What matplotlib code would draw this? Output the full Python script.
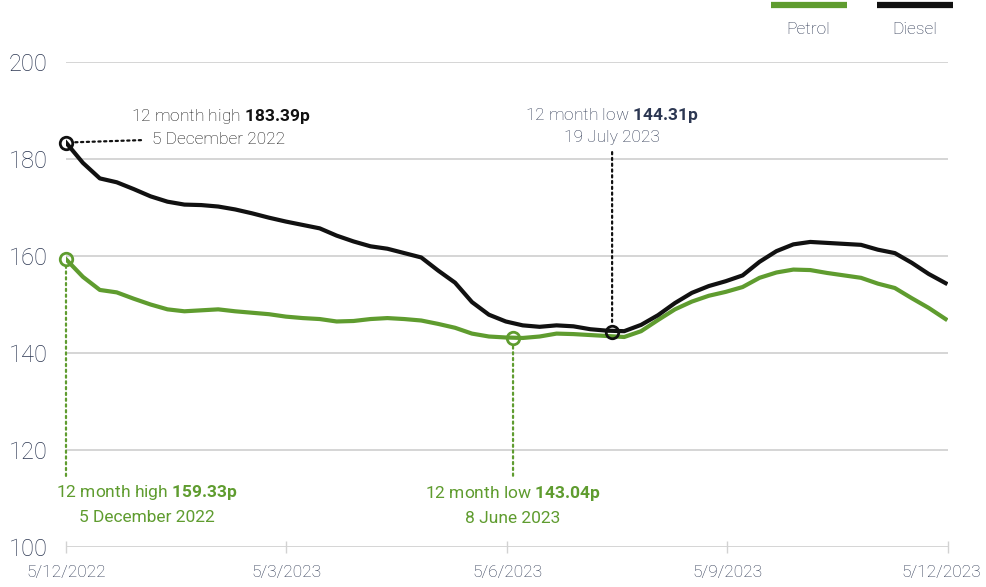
import numpy as np
import matplotlib
matplotlib.use("Agg")
import matplotlib.pyplot as plt
import matplotlib.dates as mdates
from matplotlib.lines import Line2D
from matplotlib.transforms import ScaledTranslation

# weekly average pump prices (pence per litre), from 5 Dec 2022
start = np.datetime64("2022-12-05")
end = np.datetime64("2023-12-05")
dates = start + np.arange(53) * np.timedelta64(7, "D")

diesel = [183.39, 179.2, 176.0, 175.2, 173.8, 172.3, 171.2, 170.6, 170.5, 170.2,
          169.6, 168.8, 167.9, 167.1, 166.4, 165.7, 164.2, 163.0, 162.0, 161.5,
          160.6, 159.7, 157.0, 154.5, 150.5, 147.9, 146.5, 145.7, 145.4, 145.7,
          145.5, 144.9, 144.6, 144.5, 145.8, 147.8, 150.3, 152.4, 153.8, 154.8,
          156.0, 158.8, 161.0, 162.4, 162.9, 162.7, 162.5, 162.3, 161.3, 160.6,
          158.6, 156.3, 154.4]
petrol = [159.33, 155.7, 153.0, 152.5, 151.2, 150.0, 149.0, 148.6, 148.8, 149.0,
          148.6, 148.3, 148.0, 147.5, 147.2, 147.0, 146.5, 146.6, 147.0, 147.2,
          147.0, 146.7, 146.0, 145.2, 144.0, 143.4, 143.2, 143.1, 143.4, 144.0,
          143.9, 143.7, 143.5, 143.3, 144.5, 146.8, 149.0, 150.6, 151.8, 152.6,
          153.6, 155.5, 156.6, 157.2, 157.1, 156.5, 156.0, 155.5, 154.3, 153.4,
          151.3, 149.3, 147.0]

xtick_labels = ["5/12/2022", "5/3/2023", "5/6/2023", "5/9/2023", "5/12/2023"]
yticks = [100, 120, 140, 160, 180, 200]

# highs / lows
d_high = (np.datetime64("2022-12-05"), 183.39)
d_low = (np.datetime64("2023-07-19"), 144.31)
p_high = (np.datetime64("2022-12-05"), 159.33)
p_low = (np.datetime64("2023-06-08"), 143.04)

GREEN = "#5f9c2f"
BLACK = "#111111"
NAVY = "#2c3752"
GRID = "#d2d2d2"

plt.rcParams["font.family"] = ["Roboto", "DejaVu Sans"]
plt.rcParams["mathtext.fontset"] = "custom"
plt.rcParams["mathtext.bf"] = "Roboto:bold"
plt.rcParams["mathtext.rm"] = "Roboto"

fig = plt.figure(figsize=(9.86, 5.87), dpi=100)
ax = fig.add_axes([66 / 986, 40 / 587, 882 / 986, 485 / 587])

ax.plot(dates, petrol, color=GREEN, lw=3, solid_joinstyle="round", zorder=3)
ax.plot(dates, diesel, color=BLACK, lw=3, solid_joinstyle="round", zorder=4)

ax.set_xlim(start, end)
ax.set_ylim(100, 200)
for s in ax.spines.values():
    s.set_visible(False)

ax.set_yticks(yticks)
ax.set_yticklabels([str(v) for v in yticks])
ax.yaxis.grid(True, color=GRID, lw=1.3)
ax.set_axisbelow(True)
ax.tick_params(axis="y", length=0, pad=13, labelsize=17, labelcolor=NAVY)

x0, x1 = mdates.date2num(start), mdates.date2num(end)
ax.set_xticks(np.linspace(x0, x1, 5))
ax.set_xticklabels(xtick_labels)
ax.tick_params(axis="x", direction="inout", length=8, width=1, color=GRID,
               pad=9, labelsize=12.5, labelcolor=NAVY)
for lab in ax.get_yticklabels() + ax.get_xticklabels():
    lab.set_fontweight("light")
# last date label sits against the right edge
last = ax.get_xticklabels()[-1]
last.set_transform(last.get_transform() + ScaledTranslation(-5 / 72, 0, fig.dpi_scale_trans))

# markers
for (d, v), c in [(d_high, BLACK), (d_low, BLACK), (p_high, GREEN), (p_low, GREEN)]:
    ax.plot([d], [v], marker="o", ms=9, mfc="none", mec=c, mew=2,
            clip_on=False, zorder=5)

dot = dict(arrowstyle="-", linestyle=(0, (1, 1.6)), lw=1.6)

# diesel high
ax.annotate("5 December 2022", xy=d_high, xytext=(62, 2), textcoords="offset points",
            ha="left", va="center", fontsize=12.5, color=BLACK, fontweight="light",
            arrowprops=dict(dot, color=BLACK, relpos=(0, 0.5), shrinkA=6, shrinkB=5))
ax.annotate(r"12 month high $\mathbf{183.39p}$", xy=d_high, xytext=(47, 19),
            textcoords="offset points", ha="left", va="center", fontsize=12.5,
            color=BLACK, fontweight="light")

# diesel low
ax.annotate("19 July 2023", xy=d_low, xytext=(0, 140), textcoords="offset points",
            ha="center", va="center", fontsize=12.5, color=NAVY, fontweight="light",
            arrowprops=dict(dot, color=BLACK, relpos=(0.5, 0), shrinkA=3, shrinkB=5))
ax.annotate(r"12 month low $\mathbf{144.31p}$", xy=d_low, xytext=(0, 156),
            textcoords="offset points", ha="center", va="center", fontsize=12.5,
            color=NAVY, fontweight="light")

# petrol high
ax.annotate(r"12 month high $\mathbf{159.33p}$", xy=p_high, xytext=(58, -168),
            textcoords="offset points", ha="center", va="center", fontsize=12.5,
            color=GREEN)
ax.annotate("5 December 2022", xy=p_high, xytext=(58, -186), textcoords="offset points",
            ha="center", va="center", fontsize=12.5, color=GREEN)
ax.annotate("", xy=p_high, xytext=(0, -156), textcoords="offset points",
            arrowprops=dict(dot, color=GREEN, shrinkA=0, shrinkB=5))

# petrol low
ax.annotate(r"12 month low $\mathbf{143.04p}$", xy=p_low, xytext=(0, -112),
            textcoords="offset points", ha="center", va="center", fontsize=12.5,
            color=GREEN)
ax.annotate("8 June 2023", xy=p_low, xytext=(0, -130), textcoords="offset points",
            ha="center", va="center", fontsize=12.5, color=GREEN)
ax.annotate("", xy=p_low, xytext=(0, -99), textcoords="offset points",
            arrowprops=dict(dot, color=GREEN, shrinkA=0, shrinkB=5))

# legend swatches
fig.add_artist(Line2D([771 / 986, 847 / 986], [0.9923, 0.9923], color=GREEN, lw=4.5,
                      solid_capstyle="butt"))
fig.add_artist(Line2D([877 / 986, 953 / 986], [0.9923, 0.9923], color=BLACK, lw=4.5,
                      solid_capstyle="butt"))
fig.text(808 / 986, 1 - 30 / 587, "Petrol", ha="center", va="center", fontsize=12.5,
         color=NAVY, fontweight="light")
fig.text(915 / 986, 1 - 30 / 587, "Diesel", ha="center", va="center", fontsize=12.5,
         color=NAVY, fontweight="light")

fig.savefig("out.png", dpi=100)
